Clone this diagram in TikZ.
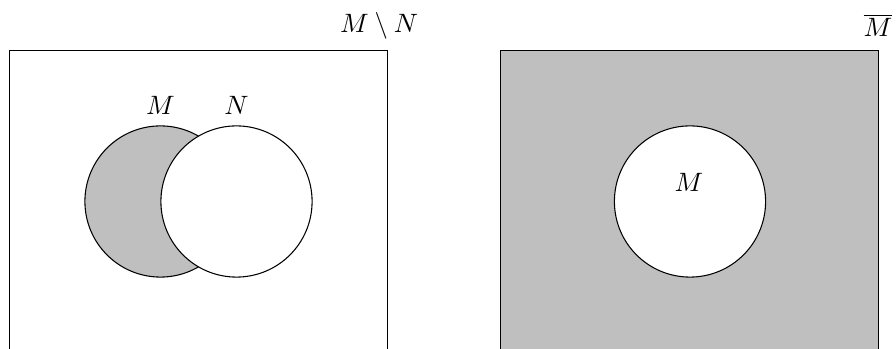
\documentclass[tikz,border=0pt]{standalone}
\begin{document}
\begin{tikzpicture}[x=0.013228cm, y=-0.013228cm,
  setbox/.style={draw, line width=0.4pt},
  setcirc/.style={circle, draw, line width=0.4pt, minimum size=2cm, inner sep=0pt, outer sep=0pt},
  lbl/.style={anchor=base, inner sep=0pt}]
\useasboundingbox (0,0) rectangle (896,349);
\clip (0,0) rectangle (896,349);
% left panel: M \ N
\draw[setbox] (9.5,50.5) rectangle (387.5,400);
\node[setcirc, fill=lightgray] (M1) at (160.5,201.5) {};
\node[setcirc, fill=white] (N1) at (236.5,201.5) {};
\node[lbl] (lM1) at (160.5,115) {$M$};
\node[lbl] (lN1) at (236.5,115) {$N$};
\node[lbl] (tL) at (379,33) {$M \setminus N$};
% right panel: complement of M
\draw[setbox, fill=lightgray] (500.5,50.5) rectangle (878.5,400);
\node[setcirc, fill=white] (M2) at (690,201.5) {};
\node[lbl] (lM2) at (689,191.5) {$M$};
\node[lbl] (tR) at (878,37) {$\overline{M}$};
\end{tikzpicture}
\end{document}
